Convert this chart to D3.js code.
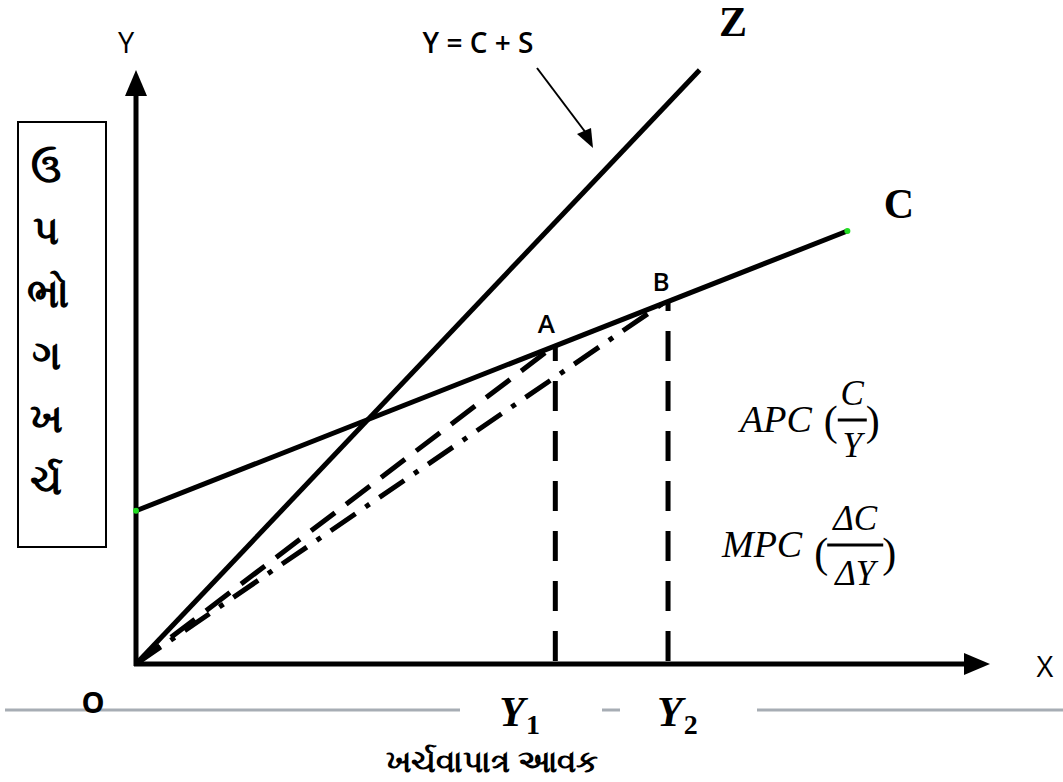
<!DOCTYPE html>
<html>
<head>
<meta charset="utf-8">
<script src="https://cdn.jsdelivr.net/npm/d3@7"></script>
<style>
  body { margin: 0; background: #fff; }
  text { fill: #000; }
</style>
</head>
<body>
<svg id="chart" width="1063" height="782"></svg>
<script>
// income (x) vs consumption (y), arbitrary units
const zLine = [[0, 0], [66.0, 100.0]];        // Y = C + S, the 45° line
const cLine = [[0, 25.8], [83.3, 72.9]];      // consumption function C
const pointA = [49.1, 53.7];
const pointB = [62.3, 61.3];
const incomeTicks = ["Y", "Y"];               // Y1, Y2 under A and B
const incomeSubs = ["1", "2"];
const sideLabel = ["ઉ", "પ", "ભો", "ગ", "ખ", "ર્ચ"];
const xTitle = "ખર્ચવાપાત્ર આવક";

const svg = d3.select("#chart");

const x = d3.scaleLinear().domain([0, 100]).range([136, 990]);
const y = d3.scaleLinear().domain([0, 100]).range([664, 70]);

const line = d3.line().x(d => x(d[0])).y(d => y(d[1]));

const sans = "'Open Sans', Lato, sans-serif";
const serif = "'Liberation Serif', 'DejaVu Serif', serif";
const guj = "'Noto Sans', sans-serif";

// grey rule under the axis, broken where the Y labels sit
const rule = [[5, 460], [602, 620], [757, 1063]];
svg.selectAll("line.rule").data(rule).join("line")
  .attr("class", "rule")
  .attr("x1", d => d[0]).attr("x2", d => d[1])
  .attr("y1", 710).attr("y2", 710)
  .attr("stroke", "#a7adb4").attr("stroke-width", 3);

// axes (no ticks, just arrows)
svg.append("line")
  .attr("x1", x(0)).attr("y1", y(0) + 2)
  .attr("x2", x(0)).attr("y2", y(100) + 22)
  .attr("stroke", "#000").attr("stroke-width", 5);
svg.append("path")
  .attr("d", `M${x(0)},${y(100)} L${x(0) - 11},${y(100) + 26} L${x(0) + 11},${y(100) + 26} Z`)
  .attr("fill", "#000");
svg.append("line")
  .attr("x1", x(0) - 2).attr("y1", y(0))
  .attr("x2", x(100) - 22).attr("y2", y(0))
  .attr("stroke", "#000").attr("stroke-width", 5);
svg.append("path")
  .attr("d", `M${x(100)},${y(0)} L${x(100) - 26},${y(0) - 11} L${x(100) - 26},${y(0) + 11} Z`)
  .attr("fill", "#000");

// vertical dashed drops from A and B (drawn from the axis up)
[pointA, pointB].forEach(p => {
  svg.append("line")
    .attr("x1", x(p[0])).attr("y1", y(0) - 3)
    .attr("x2", x(p[0])).attr("y2", y(p[1]))
    .attr("stroke", "#000").attr("stroke-width", 5)
    .attr("stroke-dasharray", "30,20");
});

// rays from the origin: dashed to A, dash-dot to B
svg.append("path").datum([[0, 0], pointA])
  .attr("d", line).attr("fill", "none")
  .attr("stroke", "#000").attr("stroke-width", 5)
  .attr("stroke-dasharray", "30,14");
svg.append("path").datum([[0, 0], pointB])
  .attr("d", line).attr("fill", "none")
  .attr("stroke", "#000").attr("stroke-width", 5)
  .attr("stroke-dasharray", "30,12,5,12");

// Z and C lines
svg.append("path").datum(zLine)
  .attr("d", line).attr("fill", "none")
  .attr("stroke", "#000").attr("stroke-width", 5);
svg.append("path").datum(cLine)
  .attr("d", line).attr("fill", "none")
  .attr("stroke", "#000").attr("stroke-width", 5);
svg.selectAll("circle.end").data(cLine).join("circle")
  .attr("class", "end")
  .attr("cx", d => x(d[0])).attr("cy", d => y(d[1]))
  .attr("r", 3).attr("fill", "#22dd22");

// small arrow pointing at the Z line
svg.append("line")
  .attr("x1", 537).attr("y1", 68).attr("x2", 586).attr("y2", 133)
  .attr("stroke", "#000").attr("stroke-width", 2);
svg.append("path")
  .attr("d", "M593,148 L577,134 L591,128 Z")
  .attr("fill", "#000");

// labels
function label(tx, ty, str, family, size, weight) {
  return svg.append("text").attr("x", tx).attr("y", ty)
    .attr("text-anchor", "middle").attr("font-family", family)
    .attr("font-size", size).attr("font-weight", weight || "normal").text(str);
}
label(126, 53, "Y", sans, 29);
label(1045, 677, "X", sans, 29);
label(93, 713, "O", sans, 29, "bold");
label(478, 53, "Y = C + S", sans, 28, 600);
label(733, 36, "Z", serif, 42, "bold");
label(899, 218, "C", serif, 42, "bold");
label(x(pointA[0]) - 9, y(pointA[1]) - 12, "A", sans, 26, 600);
label(x(pointB[0]) - 7, y(pointB[1]) - 9, "B", sans, 26, 600);

// Y1, Y2 under the drops
const subOffsets = [-56, -11];
[pointA, pointB].forEach((p, i) => {
  const t = svg.append("text")
    .attr("x", x(p[0]) + subOffsets[i]).attr("y", 726)
    .attr("font-family", serif).attr("font-weight", "bold")
    .attr("font-style", "italic").attr("font-size", 42);
  t.append("tspan").text(incomeTicks[i]);
  t.append("tspan").attr("dy", 8).attr("dx", 1)
    .attr("font-size", 28).attr("font-style", "normal").text(incomeSubs[i]);
});

label(492, 772, xTitle, guj, 31, "bold");

// boxed vertical y-axis title
svg.append("rect").attr("x", 18).attr("y", 122)
  .attr("width", 88).attr("height", 425)
  .attr("fill", "none").attr("stroke", "#000").attr("stroke-width", 2);
svg.selectAll("text.side").data(sideLabel).join("text")
  .attr("class", "side")
  .attr("x", (d, i) => i === 2 ? 48 : 46).attr("y", (d, i) => 182 + i * 62.4)
  .attr("text-anchor", "middle").attr("font-family", guj)
  .attr("font-weight", "bold").attr("font-size", 40).text(d => d);

// APC and MPC formulas
function fraction(gx, gy, name, num, den, opts) {
  const g = svg.append("g").attr("transform", `translate(${gx},${gy})`)
    .attr("font-family", serif).attr("font-style", "italic");
  const nm = g.append("text").attr("x", 0).attr("y", 0)
    .attr("font-size", 38).text(name);
  const w = nm.node().getComputedTextLength();
  g.append("text").attr("x", w + 12).attr("y", opts.paren)
    .attr("font-size", 42).attr("font-style", "normal").text("(");
  const cx = w + 12 + opts.gap + opts.bar / 2;
  g.append("text").attr("x", cx).attr("y", -27)
    .attr("text-anchor", "middle").attr("font-size", 35).text(num);
  g.append("line").attr("x1", cx - opts.bar / 2).attr("x2", cx + opts.bar / 2)
    .attr("y1", opts.line).attr("y2", opts.line)
    .attr("stroke", "#000").attr("stroke-width", 3);
  g.append("text").attr("x", cx).attr("y", opts.den)
    .attr("text-anchor", "middle").attr("font-size", 35).text(den);
  g.append("text").attr("x", cx + opts.bar / 2 - 1).attr("y", opts.paren)
    .attr("font-size", 42).attr("font-style", "normal").text(")");
}
fraction(740, 432, "APC", "C", "Y", { paren: 3, gap: 14, bar: 29, line: -12, den: 25 });
fraction(722, 557, "MPC", "ΔC", "ΔY", { paren: 10, gap: 13, bar: 56, line: -12, den: 28 });
</script>
</body>
</html>
